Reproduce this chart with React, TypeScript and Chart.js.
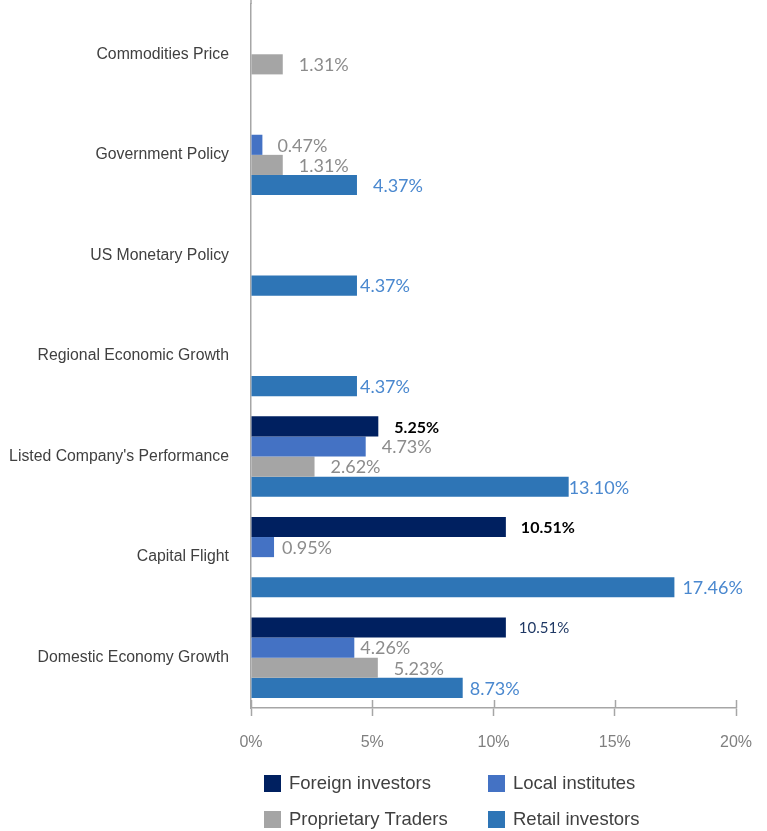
import React, { useEffect, useRef } from "react";
import { Chart, registerables } from "chart.js";

Chart.register(...registerables);

// ---------- data ----------
const categories = [
  "Commodities Price",
  "Government Policy",
  "US Monetary Policy",
  "Regional Economic Growth",
  "Listed Company's Performance",
  "Capital Flight",
  "Domestic Economy Growth",
];
const seriesNames = ["Foreign investors", "Local institutes", "Proprietary Traders", "Retail investors"];
const foreignInvestors = [null, null, null, null, 5.25, 10.51, 10.51];
const localInstitutes = [null, 0.47, null, null, 4.73, 0.95, 4.26];
const proprietaryTraders = [1.31, 1.31, null, null, 2.62, null, 5.23];
const retailInvestors = [null, 4.37, 4.37, 4.37, 13.1, 17.46, 8.73];
const xMin = 0;
const xMax = 20;
const xStep = 5;

// ---------- styles ----------
const seriesColors = ["#002060", "#4472C4", "#A5A5A5", "#2E75B6"];
const labelColors = ["#000000", "#8c8c8c", "#8c8c8c", "#4a88cf"];
const labelFonts = ["bold 16px Lato", "18px Lato", "18px Lato", "18px Lato"];
// gap (px) between bar end and its value label, per series / category
const labelGaps = [
  [0, 0, 0, 0, 16, 15, 13],
  [0, 15, 0, 0, 16, 8, 6],
  [16, 16, 0, 0, 16, 0, 16],
  [0, 16, 3, 3, 0, 8, 7],
];
// special label style overrides: [series, category, font, color]
const labelOverrides: [number, number, string, string][] = [[0, 6, "15px Lato", "#1f3864"]];
const axisColor = "#a6a6a6";
const SANS = "'Liberation Sans', Arial, sans-serif";

const valueLabelPlugin = {
  id: "valueLabels",
  afterDatasetsDraw(chart: any) {
    const ctx = chart.ctx;
    ctx.save();
    ctx.textAlign = "left";
    ctx.textBaseline = "middle";
    chart.data.datasets.forEach((ds: any, si: number) => {
      const meta = chart.getDatasetMeta(si);
      meta.data.forEach((el: any, ci: number) => {
        const v = ds.data[ci];
        if (v === null || v === undefined) return;
        let font = labelFonts[si];
        let color = labelColors[si];
        labelOverrides.forEach((o) => {
          if (o[0] === si && o[1] === ci) {
            font = o[2];
            color = o[3];
          }
        });
        ctx.font = font;
        ctx.fillStyle = color;
        ctx.fillText(v.toFixed(2) + "%", el.x + labelGaps[si][ci], el.y + 1);
      });
    });
    ctx.restore();
  },
};

const extrasPlugin = {
  id: "extras",
  afterDraw(chart: any) {
    const ctx = chart.ctx;
    const xs = chart.scales.x;
    const area = chart.chartArea;
    ctx.save();
    ctx.strokeStyle = axisColor;
    ctx.lineWidth = 1.5;
    // extend the vertical axis line to the top edge
    ctx.beginPath();
    ctx.moveTo(area.left, 0);
    ctx.lineTo(area.left, area.top);
    ctx.stroke();
    // upper part of x tick marks (cross the axis)
    xs.ticks.forEach((t: any) => {
      const px = Math.round(xs.getPixelForValue(t.value)) + 0.5;
      ctx.beginPath();
      ctx.moveTo(px, area.bottom - 8);
      ctx.lineTo(px, area.bottom);
      ctx.stroke();
    });
    // legend (2 x 2 grid)
    const colX = [264, 488];
    const rowY = [area.bottom + 67, area.bottom + 103];
    ctx.font = "18.5px " + SANS;
    ctx.textAlign = "left";
    ctx.textBaseline = "middle";
    seriesNames.forEach((name, i) => {
      const x = colX[i % 2];
      const y = rowY[Math.floor(i / 2)];
      ctx.fillStyle = seriesColors[i];
      ctx.fillRect(x, y, 17, 17);
      ctx.fillStyle = "#404040";
      ctx.fillText(name, x + 25, y + 9);
    });
    ctx.restore();
  },
};

export default function App() {
  const ref = useRef<HTMLCanvasElement>(null);
  useEffect(() => {
    if (!ref.current) return;
    const seriesData = [foreignInvestors, localInstitutes, proprietaryTraders, retailInvestors];
    const chart = new Chart(ref.current, {
      type: "bar",
      data: {
        labels: categories,
        datasets: seriesNames.map((n, i) => ({
          label: n,
          data: seriesData[i] as any,
          backgroundColor: seriesColors[i],
          borderWidth: 0,
          categoryPercentage: 0.8,
          barPercentage: 1.0,
        })),
      },
      options: {
        indexAxis: "y",
        responsive: false,
        animation: false,
        layout: { padding: { left: 0, right: 31, top: 4, bottom: 81 } },
        plugins: { legend: { display: false }, tooltip: { enabled: false } },
        scales: {
          x: {
            min: xMin,
            max: xMax,
            ticks: {
              stepSize: xStep,
              callback: (v: any) => v + "%",
              font: { family: SANS, size: 16 },
              color: "#7f7f7f",
              padding: 17,
            },
            grid: {
              display: true,
              drawOnChartArea: false,
              drawTicks: true,
              tickLength: 8,
              tickColor: axisColor,
              tickWidth: 1.5,
            },
            border: { display: true, color: axisColor, width: 1.5 },
            afterFit: (s: any) => {
              s.height = 42;
              s.paddingLeft = 0;
              s.paddingRight = 0;
            },
          },
          y: {
            ticks: {
              font: { family: SANS, size: 15.8 },
              color: "#404040",
              padding: 22,
            },
            grid: { display: false, drawTicks: false },
            border: { display: true, color: axisColor, width: 1.5 },
            afterFit: (s: any) => {
              s.width = 251;
              s.paddingTop = 0;
              s.paddingBottom = 0;
            },
          },
        },
      },
      plugins: [valueLabelPlugin, extrasPlugin],
    });
    return () => chart.destroy();
  }, []);
  return (
    <div style={{ position: "absolute", left: 0, top: 0, width: 767, height: 831, background: "#fff" }}>
      <canvas ref={ref} width={767} height={831} />
    </div>
  );
}
